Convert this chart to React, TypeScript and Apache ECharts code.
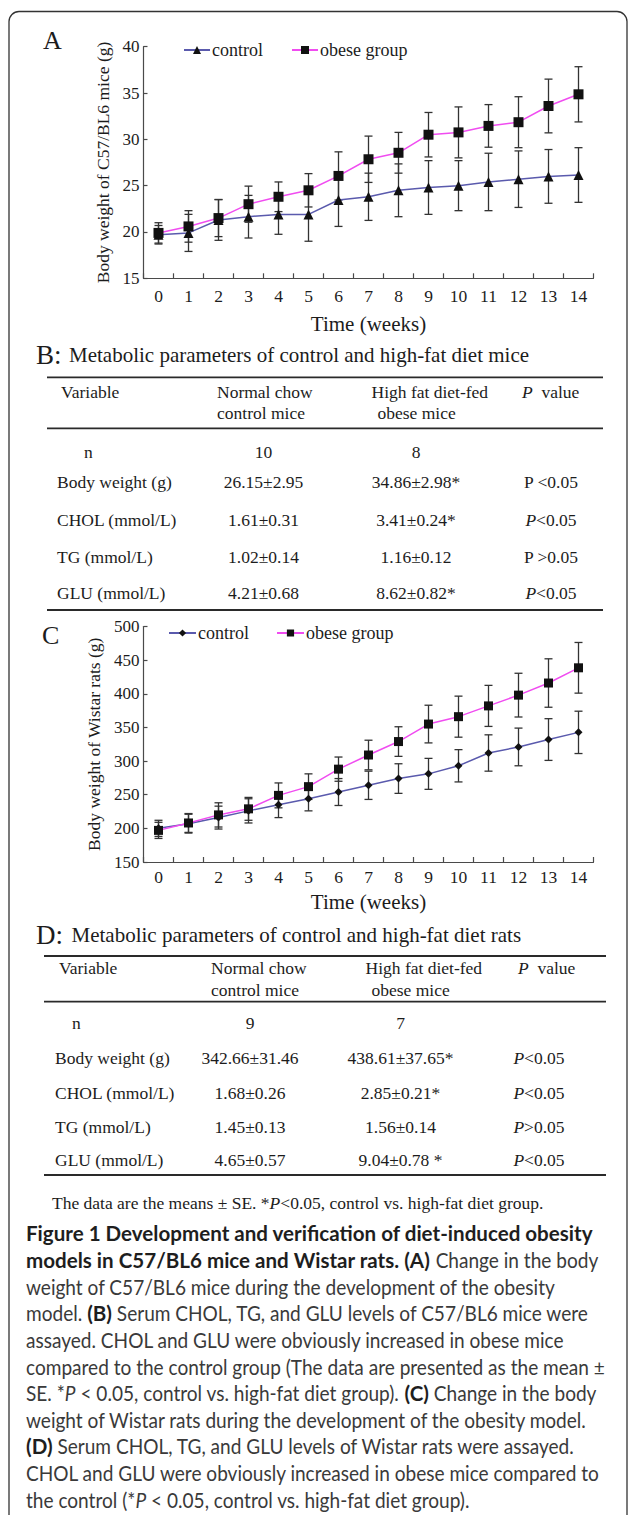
import React, { useEffect, useRef } from 'react';
import * as echarts from 'echarts';

// ---------- data ----------
const weeks = ['0', '1', '2', '3', '4', '5', '6', '7', '8', '9', '10', '11', '12', '13', '14'];

const miceControl = [19.7, 19.9, 21.3, 21.65, 21.9, 21.9, 23.45, 23.8, 24.5, 24.8, 25.0, 25.4, 25.7, 26.0, 26.15];
const miceControlErr = [1.0, 2.0, 2.2, 2.3, 2.15, 2.9, 2.85, 2.55, 2.85, 2.9, 2.7, 3.1, 3.05, 2.9, 2.95];
const miceObese = [19.9, 20.6, 21.5, 23.0, 23.8, 24.5, 26.05, 27.85, 28.55, 30.5, 30.75, 31.45, 31.85, 33.6, 34.86];
const miceObeseErr = [1.1, 1.7, 2.0, 1.95, 1.6, 1.8, 2.6, 2.5, 2.2, 2.4, 2.75, 2.3, 2.75, 2.9, 2.98];

const ratControl = [200, 207, 216, 226, 235, 244, 254, 264, 274, 281, 293, 312, 321, 332, 342.66];
const ratControlErr = [12, 14, 17, 18, 19, 18, 20, 21, 22, 23, 24, 27, 28, 31, 31.46];
const ratObese = [197, 208, 220, 229, 249, 262, 288, 309, 329, 355, 366, 382, 398, 416, 438.61];
const ratObeseErr = [12, 14, 18, 17, 18.5, 19, 18, 22, 22, 28, 30.5, 30.5, 32.5, 36, 37.65];

const miceYTicks = { min: 15, max: 40, interval: 5 };
const ratYTicks = { min: 150, max: 500, interval: 50 };

const legendLabels: Record<string, string> = {
  'mice-control': 'control',
  'mice-obese': 'obese group',
  'rat-control': 'control',
  'rat-obese': 'obese group',
};

const tableRowNames = ['n', 'Body weight (g)', 'CHOL (mmol/L)', 'TG (mmol/L)', 'GLU (mmol/L)'];
const miceTableControl = ['10', '26.15±2.95', '1.61±0.31', '1.02±0.14', '4.21±0.68'];
const miceTableObese = ['8', '34.86±2.98*', '3.41±0.24*', '1.16±0.12', '8.62±0.82*'];
const miceTableP = ['', 'P <0.05', 'P<0.05', 'P >0.05', 'P<0.05'];
const miceTablePItalic = [false, false, true, false, true];
const ratTableControl = ['9', '342.66±31.46', '1.68±0.26', '1.45±0.13', '4.65±0.57'];
const ratTableObese = ['7', '438.61±37.65*', '2.85±0.21*', '1.56±0.14', '9.04±0.78 *'];
const ratTableP = ['', 'P<0.05', 'P<0.05', 'P>0.05', 'P<0.05'];
const ratTablePItalic = [false, true, true, true, true];

const miceTitle = 'Metabolic parameters of control and high-fat diet mice';
const ratTitle = 'Metabolic parameters of control and high-fat diet rats';
const footnoteParts = ['The data are the means ± SE. *', 'P', '<0.05, control vs. high-fat diet group.'];

type Seg = [string, string];
const captionLines: Seg[][] = [
  [['b', 'Figure 1 Development and verification of diet-induced obesity']],
  [['b', 'models in C57/BL6 mice and Wistar rats. (A)'], ['r', ' Change in the body']],
  [['r', 'weight of C57/BL6 mice during the development of the obesity']],
  [['r', 'model. '], ['b', '(B)'], ['r', ' Serum CHOL, TG, and GLU levels of C57/BL6 mice were']],
  [['r', 'assayed. CHOL and GLU were obviously increased in obese mice']],
  [['r', 'compared to the control group (The data are presented as the mean ±']],
  [['r', 'SE. *'], ['i', 'P'], ['r', ' < 0.05, control vs. high-fat diet group). '], ['b', '(C)'], ['r', ' Change in the body']],
  [['r', 'weight of Wistar rats during the development of the obesity model.']],
  [['b', '(D)'], ['r', ' Serum CHOL, TG, and GLU levels of Wistar rats were assayed.']],
  [['r', 'CHOL and GLU were obviously increased in obese mice compared to']],
  [['r', 'the control (*'], ['i', 'P'], ['r', ' < 0.05, control vs. high-fat diet group).']],
];

// ---------- styles ----------
const SERIF = '"Liberation Serif", "Times New Roman", serif';
const SANS = 'Lato, "Open Sans", sans-serif';
const INK = '#1c1c1c';
const AXIS = '#4a4a4a';
const CONTROL_LINE = '#5a5aad';
const OBESE_LINE = '#f04cf0';

function measure(text: string, font: string): number {
  try {
    const c = document.createElement('canvas').getContext('2d');
    if (!c) return 0;
    c.font = font;
    return c.measureText(text).width;
  } catch (e) {
    return 0;
  }
}

function txt(text: string, x: number, y: number, size: number, o: any = {}) {
  const fill = o.fill || INK;
  const family = o.family || SERIF;
  return {
    type: 'text',
    x,
    y,
    silent: true,
    scaleX: o.scaleX || 1,
    style: {
      text,
      fontFamily: family,
      fontSize: size,
      fontWeight: o.weight || 'normal',
      fontStyle: o.fstyle || 'normal',
      fill,
      align: o.align || 'left',
      textAlign: o.align || 'left',
      verticalAlign: 'middle',
      textVerticalAlign: 'middle',
      rich: {
        i: { fontStyle: 'italic', fontFamily: family, fontSize: size, fill },
        r: { fontFamily: family, fontSize: size, fill },
      },
    },
  };
}

function hline(x1: number, x2: number, y: number, w = 1.8) {
  return { type: 'line', silent: true, shape: { x1, y1: y, x2, y2: y }, style: { stroke: '#2a2a2a', lineWidth: w } };
}

function errorSeries(values: number[], errs: number[], axis: number) {
  return {
    type: 'custom',
    xAxisIndex: axis,
    yAxisIndex: axis,
    silent: true,
    z: 1,
    data: values.map((v, i) => [i, v, errs[i]]),
    renderItem: (params: any, api: any) => {
      const i = api.value(0);
      const v = api.value(1);
      const e = api.value(2);
      const p1 = api.coord([i, v + e]);
      const p2 = api.coord([i, v - e]);
      const cw = 4;
      const style = { stroke: '#333', lineWidth: 1.3 };
      return {
        type: 'group',
        children: [
          { type: 'line', shape: { x1: p1[0], y1: p1[1], x2: p2[0], y2: p2[1] }, style },
          { type: 'line', shape: { x1: p1[0] - cw, y1: p1[1], x2: p1[0] + cw, y2: p1[1] }, style },
          { type: 'line', shape: { x1: p2[0] - cw, y1: p2[1], x2: p2[0] + cw, y2: p2[1] }, style },
        ],
      };
    },
  };
}

function lineSeries(name: string, values: number[], axis: number, symbol: string, size: number, color: string) {
  return {
    name,
    type: 'line',
    xAxisIndex: axis,
    yAxisIndex: axis,
    data: values,
    symbol,
    symbolSize: size,
    z: 3,
    itemStyle: { color: '#111' },
    lineStyle: { color, width: 1.5 },
  };
}

function xAxisDef(grid: number, margin: number, nameGap: number) {
  return {
    gridIndex: grid,
    type: 'category',
    data: weeks,
    boundaryGap: true,
    axisLine: { show: true, lineStyle: { color: AXIS, width: 1.2 } },
    axisTick: { show: true, inside: true, length: 5, lineStyle: { color: AXIS, width: 1.2 } },
    axisLabel: { fontFamily: SERIF, fontSize: 17.5, color: INK, margin },
    name: 'Time (weeks)',
    nameLocation: 'middle',
    nameGap,
    nameTextStyle: { fontFamily: SERIF, fontSize: 21, color: INK },
  };
}

function yAxisDef(grid: number, ticks: any, name: string, nameGap: number) {
  return {
    gridIndex: grid,
    type: 'value',
    min: ticks.min,
    max: ticks.max,
    interval: ticks.interval,
    axisLine: { show: true, lineStyle: { color: AXIS, width: 1.2 } },
    axisTick: { show: true, inside: true, length: 4, lineStyle: { color: AXIS, width: 1.2 } },
    splitLine: { show: false },
    axisLabel: { fontFamily: SERIF, fontSize: 17, color: INK, margin: 4 },
    name,
    nameLocation: 'middle',
    nameRotate: 90,
    nameGap,
    nameTextStyle: { fontFamily: SERIF, fontSize: 17.5, color: INK },
  };
}

function tableGraphics(
  yTop: number, yHead1: number, yHead2: number, yHeadRule: number, rowYs: number[], yBottom: number,
  ruleX1: number, ruleX2: number,
  colVarX: number, colNX: number, colCtl: number, colObe: number, colP: number,
  headNormalX: number, headHighX: number, headObeseX: number, headPX: number,
  ctl: string[], obe: string[], pv: string[], pit: boolean[]
) {
  const g: any[] = [];
  const fs = 17.5;
  g.push(hline(ruleX1, ruleX2, yTop));
  g.push(txt('Variable', colVarX + 4, yHead1, fs));
  g.push(txt('Normal chow', headNormalX, yHead1, fs));
  g.push(txt('control mice', headNormalX, yHead2, fs));
  g.push(txt('High fat diet-fed', headHighX, yHead1, fs));
  g.push(txt('obese mice', headObeseX, yHead2, fs));
  g.push(txt('{i|P}{r|  value}', headPX, yHead1, fs));
  g.push(hline(ruleX1, ruleX2, yHeadRule));
  rowYs.forEach((y, k) => {
    g.push(txt(tableRowNames[k], k === 0 ? colNX : colVarX, y, fs));
    g.push(txt(ctl[k], colCtl, y, fs, { align: 'center' }));
    g.push(txt(obe[k], colObe, y, fs, { align: 'center' }));
    if (pv[k]) {
      const t = pit[k] ? '{i|P}{r|' + pv[k].slice(1) + '}' : pv[k];
      g.push(txt(t, colP, y, fs, { align: 'center' }));
    }
  });
  g.push(hline(ruleX1, ruleX2, yBottom));
  return g;
}

function captionGraphics() {
  const size = 20.5;
  const fonts: Record<string, string> = {
    r: `normal normal ${size}px Lato`,
    b: `normal bold ${size}px Lato`,
    i: `italic normal ${size}px Lato`,
  };
  const mr = measure('weight of C57/BL6 mice during the development of the obesity', fonts.r);
  const mb = measure('Figure 1 Development and verification of diet-induced obesity', fonts.b);
  const sr = mr > 0 ? 530 / mr : 0.9;
  const sb = mb > 0 ? 568 / mb : 0.9;
  const lineYs = [1233.3, 1260, 1286.7, 1312.7, 1339.3, 1366.7, 1392.7, 1419.3, 1446, 1472.7, 1499.3];
  const out: any[] = [];
  captionLines.forEach((line, li) => {
    let x = 26;
    line.forEach(([kind, text]) => {
      const font = fonts[kind];
      const sc = kind === 'b' ? sb : sr;
      const sp = (measure(' ', font) || size * 0.2) * sc;
      const trimmedStart = text.replace(/^\s+/, '');
      const lead = text.length - trimmedStart.length;
      const t = trimmedStart.replace(/\s+$/, '');
      const trail = trimmedStart.length - t.length;
      x += lead * sp;
      out.push(
        txt(t, x, lineYs[li], size, {
          family: SANS,
          weight: kind === 'b' ? 'bold' : 'normal',
          fstyle: kind === 'i' ? 'italic' : 'normal',
          fill: kind === 'b' ? '#1e1e1e' : '#3a3a3a',
          scaleX: sc,
        })
      );
      x += (measure(t, font) || t.length * size * 0.45) * sc + trail * sp;
    });
  });
  return out;
}

export default function App() {
  const ref = useRef<HTMLDivElement>(null);

  useEffect(() => {
    if (!ref.current) return;
    const chart = echarts.init(ref.current, null, { renderer: 'svg' });

    const graphic: any[] = [
      {
        type: 'rect',
        silent: true,
        z: -10,
        shape: { x: 9, y: 11.5, width: 618, height: 1540, r: 10 },
        style: { fill: 'none', stroke: '#333', lineWidth: 1.3 },
      },
      txt('A', 43, 40.5, 26),
      txt('C', 42, 635, 26),
      txt('B:', 36, 355, 27),
      txt(miceTitle, 69, 355, 21),
      txt('D:', 36, 935, 27),
      txt(ratTitle, 71.5, 935, 21),
      ...tableGraphics(
        377.3, 391.7, 412.7, 428.3, [451.7, 481.7, 520, 556.7, 593.3], 610,
        47, 603,
        57, 84, 263.5, 416, 551,
        217, 371.5, 377.5, 522,
        miceTableControl, miceTableObese, miceTableP, miceTablePItalic
      ),
      ...tableGraphics(
        956, 968.3, 990, 1001.7, [1023.3, 1058.3, 1093.3, 1126.7, 1160], 1175,
        44, 606,
        55, 72, 250, 400.5, 539,
        211, 365.5, 371.5, 518,
        ratTableControl, ratTableObese, ratTableP, ratTablePItalic
      ),
      txt('{r|' + footnoteParts[0] + '}{i|' + footnoteParts[1] + '}{r|' + footnoteParts[2] + '}', 52, 1203.3, 17.5),
      ...captionGraphics(),
    ];

    const option: any = {
      animation: false,
      backgroundColor: '#ffffff',
      grid: [
        { left: 143.5, top: 46.7, width: 450, height: 231.6 },
        { left: 143.5, top: 626.5, width: 450, height: 235.5 },
      ],
      legend: [
        {
          data: ['mice-control', 'mice-obese'],
          left: 183,
          top: 41,
          padding: 0,
          itemWidth: 26,
          itemHeight: 10,
          itemGap: 28,
          formatter: (n: string) => legendLabels[n],
          textStyle: { fontFamily: SERIF, fontSize: 18, color: INK, padding: [0, 0, 0, -3] },
          selectedMode: false,
        },
        {
          data: ['rat-control', 'rat-obese'],
          left: 168,
          top: 624,
          padding: 0,
          itemWidth: 27,
          itemHeight: 9,
          itemGap: 27,
          formatter: (n: string) => legendLabels[n],
          textStyle: { fontFamily: SERIF, fontSize: 18, color: INK, padding: [0, 0, 0, -3] },
          selectedMode: false,
        },
      ],
      xAxis: [xAxisDef(0, 9, 35), xAxisDef(1, 6, 29)],
      yAxis: [
        yAxisDef(0, miceYTicks, 'Body weight of C57/BL6 mice (g)', 30),
        yAxisDef(1, ratYTicks, 'Body weight of Wistar rats (g)', 36.5),
      ],
      series: [
        errorSeries(miceControl, miceControlErr, 0),
        errorSeries(miceObese, miceObeseErr, 0),
        lineSeries('mice-control', miceControl, 0, 'triangle', 10, CONTROL_LINE),
        lineSeries('mice-obese', miceObese, 0, 'rect', 10, OBESE_LINE),
        errorSeries(ratControl, ratControlErr, 1),
        errorSeries(ratObese, ratObeseErr, 1),
        lineSeries('rat-control', ratControl, 1, 'diamond', 8, CONTROL_LINE),
        lineSeries('rat-obese', ratObese, 1, 'rect', 9, OBESE_LINE),
      ],
      graphic,
    };

    chart.setOption(option);
    return () => chart.dispose();
  }, []);

  return (
    <div
      ref={ref}
      style={{ position: 'absolute', left: 0, top: 0, width: 629, height: 1515, background: '#fff' }}
    />
  );
}
